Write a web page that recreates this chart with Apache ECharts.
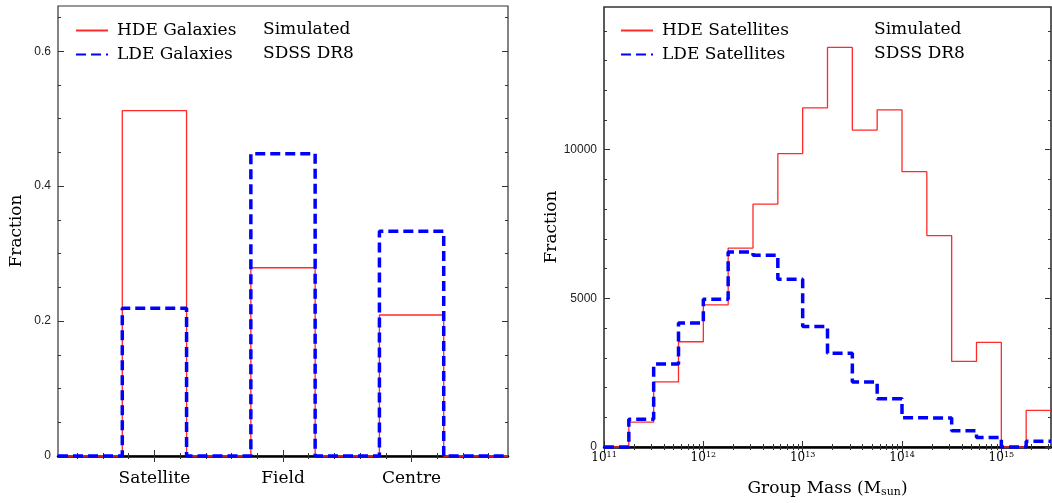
<!DOCTYPE html>
<html>
<head>
<meta charset="utf-8">
<script src="https://cdn.jsdelivr.net/npm/echarts@6/dist/echarts.min.js"></script>
<style>html,body{margin:0;padding:0;background:#fff;}#c{width:1052px;height:503px;}</style>
</head>
<body>
<div id="c"></div>
<script>
// ---------- Left panel data ----------
const categories = ['Satellite', 'Field', 'Centre'];
const categoryPos = [1, 2, 3];
const hdeGalaxies = [0.512, 0.279, 0.209];
const ldeGalaxies = [0.219, 0.448, 0.333];
const fractionTicks = [0, 0.2, 0.4, 0.6];
const fractionTickLabels = ['0', '0.2', '0.4', '0.6'];

// ---------- Right panel data ----------
const massEdgesLog = [11, 11.25, 11.5, 11.75, 12, 12.25, 12.5, 12.75, 13, 13.25, 13.5, 13.75, 14, 14.25, 14.5, 14.75, 15, 15.25, 15.5];
const hdeSatellites = [0, 835, 2190, 3540, 4780, 6690, 8170, 9870, 11410, 13440, 10660, 11340, 9260, 7110, 2880, 3520, 0, 1230];
const ldeSatellites = [0, 935, 2790, 4170, 4970, 6560, 6450, 5640, 4050, 3150, 2190, 1620, 980, 975, 550, 320, 0, 190];
const countTicks = [0, 5000, 10000];
const countTickLabels = ['0', '5000', '10000'];
const massDecades = [11, 12, 13, 14, 15];
const massExponents = ['11', '12', '13', '14', '15'];

// ---------- helpers ----------
function stepData(edges, values) {
  const d = values.map((v, i) => [edges[i], v]);
  d.push([edges[edges.length - 1], values[values.length - 1]]);
  return d;
}
// left panel: each category is a bin of width 0.5 centred on its position, empty bins between
const leftEdges = [0.25];
const hdeLeft = [0], ldeLeft = [0];
categoryPos.forEach((p, i) => {
  leftEdges.push(p - 0.25);
  if (i === categoryPos.length - 1) { leftEdges.push(p + 0.25, 3.75); }
  hdeLeft.push(hdeGalaxies[i], 0);
  ldeLeft.push(ldeGalaxies[i], 0);
});
// leftEdges = [0.25,0.75,1.25(?)...] -> rebuild explicitly with bins between
leftEdges.length = 0;
leftEdges.push(0.25);
categoryPos.forEach(p => { leftEdges.push(p - 0.25, p + 0.25); });
leftEdges.push(3.75);

const catMinor = [];
for (let v = 0.4; v < 3.7; v += 0.2) { const r = Math.round(v * 10) / 10; if (Math.abs(r - Math.round(r)) > 1e-6) catMinor.push(r); }
const fracMinor = [];
for (let v = 0.05; v < 0.667; v += 0.05) { const r = Math.round(v * 100) / 100; if (Math.abs(r * 5 - Math.round(r * 5)) > 1e-6) fracMinor.push(r); }
const massMinor = [];
massDecades.forEach(n => { for (let k = 2; k <= 9; k++) { const v = n + Math.log10(k); if (v <= 15.5) massMinor.push(v); } });
const countMinor = [];
for (let v = 1000; v <= 14000; v += 1000) if (v % 5000 !== 0) countMinor.push(v);

const SERIF = 'DejaVu Serif';
const SANS = 'Liberation Sans';
const tickColor = '#333';
const RED = '#ff2a2a';
const BLUE = '#0000ff';

function xAx(grid, min, max, pos, major, minor, isMajor, extra) {
  return Object.assign({
    type: 'value', gridIndex: grid, min: min, max: max, position: pos,
    splitLine: { show: false },
    axisLine: { show: false },
    axisTick: { show: true, inside: true, length: isMajor ? 6 : 3, customValues: isMajor ? major : minor, lineStyle: { color: tickColor, width: 1 } },
    axisLabel: { show: false }
  }, extra || {});
}

const xAxes = [
  // left panel
  xAx(0, 0.25, 3.75, 'bottom', categoryPos, catMinor, true, {
    axisLine: { show: true, onZero: false, lineStyle: { color: '#000', width: 2.5 } },
    axisLabel: { show: true, customValues: categoryPos, margin: 14, color: '#000', fontFamily: SERIF, fontSize: 17,
      formatter: v => categories[categoryPos.indexOf(Math.round(v))] }
  }),
  xAx(0, 0.25, 3.75, 'bottom', categoryPos, catMinor, false),
  xAx(0, 0.25, 3.75, 'top', categoryPos, catMinor, true),
  xAx(0, 0.25, 3.75, 'top', categoryPos, catMinor, false),
  // right panel
  xAx(1, 11, 15.5, 'bottom', massDecades, massMinor, true, {
    axisLine: { show: true, onZero: false, lineStyle: { color: '#000', width: 2.5 } },
    axisLabel: { show: true, customValues: massDecades, margin: 4, color: '#000', fontFamily: SERIF, fontSize: 12,
      formatter: v => '10{sup|' + massExponents[massDecades.indexOf(Math.round(v))] + '}',
      rich: { sup: { fontFamily: SERIF, fontSize: 8, verticalAlign: 'top', color: '#000', padding: [0, 0, 6, 0] } } },
    name: 'Group Mass (M{sub|sun})', nameLocation: 'middle', nameGap: 32,
    nameTextStyle: { fontFamily: SERIF, fontSize: 17, color: '#000',
      rich: { sub: { fontFamily: SERIF, fontSize: 11, color: '#000', verticalAlign: 'bottom', padding: [8, 0, 0, 0] } } }
  }),
  xAx(1, 11, 15.5, 'bottom', massDecades, massMinor, false),
  xAx(1, 11, 15.5, 'top', massDecades, massMinor, true),
  xAx(1, 11, 15.5, 'top', massDecades, massMinor, false)
];

function yAx(grid, min, max, pos, major, minor, isMajor, extra) {
  return Object.assign({
    type: 'value', gridIndex: grid, min: min, max: max, position: pos,
    splitLine: { show: false },
    axisLine: { show: false },
    axisTick: { show: true, inside: true, length: isMajor ? 6 : 3, customValues: isMajor ? major : minor, lineStyle: { color: tickColor, width: 1 } },
    axisLabel: { show: false }
  }, extra || {});
}

const yAxes = [
  yAx(0, 0, 0.667, 'left', fractionTicks, fracMinor, true, {
    axisLabel: { show: true, customValues: fractionTicks, margin: 7, color: '#222', fontFamily: SANS, fontSize: 12,
      formatter: v => fractionTickLabels[fractionTicks.findIndex(t => Math.abs(t - v) < 1e-6)] },
    name: 'Fraction', nameLocation: 'middle', nameRotate: 90, nameGap: 33,
    nameTextStyle: { fontFamily: SERIF, fontSize: 17, color: '#000' }
  }),
  yAx(0, 0, 0.667, 'left', fractionTicks, fracMinor, false),
  yAx(0, 0, 0.667, 'right', fractionTicks, fracMinor, true),
  yAx(0, 0, 0.667, 'right', fractionTicks, fracMinor, false),
  yAx(1, 0, 14800, 'left', countTicks, countMinor, true, {
    axisLabel: { show: true, customValues: countTicks, margin: 7, color: '#222', fontFamily: SANS, fontSize: 12,
      formatter: v => countTickLabels[countTicks.indexOf(Math.round(v))] },
    name: 'Fraction', nameLocation: 'middle', nameRotate: 90, nameGap: 39,
    nameTextStyle: { fontFamily: SERIF, fontSize: 17, color: '#000' }
  }),
  yAx(1, 0, 14800, 'left', countTicks, countMinor, false),
  yAx(1, 0, 14800, 'right', countTicks, countMinor, true),
  yAx(1, 0, 14800, 'right', countTicks, countMinor, false)
];

function lineSeries(name, xi, yi, data, color, width, dashed) {
  return {
    name: name, type: 'line', xAxisIndex: xi, yAxisIndex: yi, step: 'end', symbol: 'none',
    data: data, color: color, clip: false,
    lineStyle: { color: color, width: width, type: dashed ? [10, 5] : 'solid' },
    z: dashed ? 3 : 2
  };
}

const legendText = { fontFamily: SERIF, fontSize: 17, color: '#000', padding: [0, 0, 0, 4] };
const legendCommon = {
  orient: 'vertical', top: 22, itemWidth: 32, itemHeight: 14, itemGap: 7, padding: 0,
  textStyle: legendText, itemStyle: { opacity: 0, borderWidth: 0 }
};

const option = {
  animation: false,
  backgroundColor: '#fff',
  grid: [
    { left: 58, top: 6, width: 450, height: 450, show: true, borderColor: '#333', borderWidth: 1.2, backgroundColor: 'transparent' },
    { left: 604, top: 7, width: 447, height: 449, show: true, borderColor: '#333', borderWidth: 1.6, backgroundColor: 'transparent' }
  ],
  xAxis: xAxes,
  yAxis: yAxes,
  legend: [
    Object.assign({ data: ['HDE Galaxies', 'LDE Galaxies'], left: 75 }, legendCommon),
    Object.assign({ data: ['HDE Satellites', 'LDE Satellites'], left: 620 }, legendCommon)
  ],
  graphic: [
    { type: 'text', left: 263, top: 21, style: { text: 'Simulated', font: '17px "DejaVu Serif"', fill: '#000' } },
    { type: 'text', left: 263, top: 45, style: { text: 'SDSS DR8', font: '17px "DejaVu Serif"', fill: '#000' } },
    { type: 'text', left: 874, top: 21, style: { text: 'Simulated', font: '17px "DejaVu Serif"', fill: '#000' } },
    { type: 'text', left: 874, top: 45, style: { text: 'SDSS DR8', font: '17px "DejaVu Serif"', fill: '#000' } }
  ],
  series: [
    lineSeries('HDE Galaxies', 0, 0, stepData(leftEdges, hdeLeft), RED, 1.3, false),
    lineSeries('LDE Galaxies', 0, 0, stepData(leftEdges, ldeLeft), BLUE, 3.5, true),
    lineSeries('HDE Satellites', 4, 4, stepData(massEdgesLog, hdeSatellites), RED, 1.3, false),
    lineSeries('LDE Satellites', 4, 4, stepData(massEdgesLog, ldeSatellites), BLUE, 3.5, true)
  ]
};

const chart = echarts.init(document.getElementById('c'), null, { renderer: 'canvas' });
chart.setOption(option);
</script>
</body>
</html>
